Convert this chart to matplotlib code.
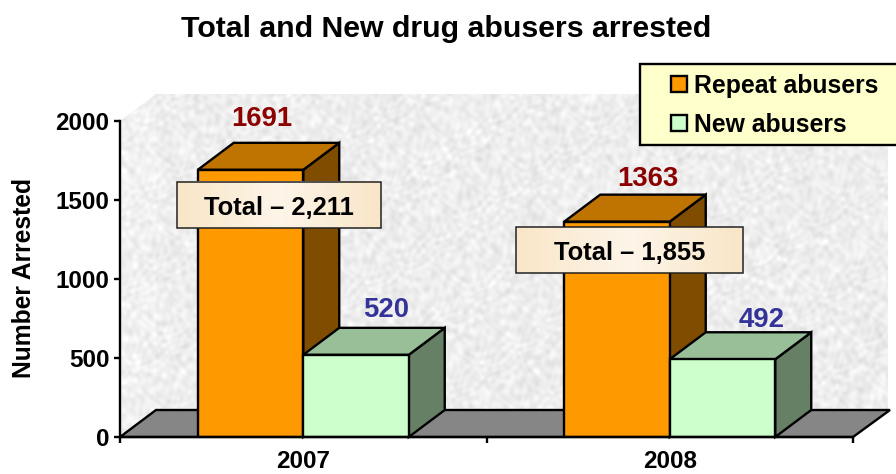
import numpy as np
import matplotlib
matplotlib.use("Agg")
import matplotlib.pyplot as plt
from matplotlib.colors import LinearSegmentedColormap
from matplotlib.patches import Polygon, Rectangle

plt.rcParams['font.family'] = ['Liberation Sans', 'DejaVu Sans']
plt.rcParams['font.weight'] = 'bold'

years = ["2007", "2008"]
repeat_abusers = [1691, 1363]
new_abusers = [520, 492]
total_labels = ["Total \u2013 2,211", "Total \u2013 1,855"]
y_ticks = [0, 500, 1000, 1500, 2000]

W, H = 896, 474
LW = 1.7


def wall_texture(nx, ny):
    # mottled grey stone look, only decoration behind the chart
    xx, yy = np.meshgrid(np.arange(nx), np.arange(ny))
    t = np.zeros_like(xx, dtype=float)
    for fx, fy, ph in [(0.31, 0.17, 0.4), (0.13, 0.37, 1.9), (0.23, -0.29, 3.1), (0.47, 0.11, 5.2),
                       (-0.19, 0.43, 2.2), (0.53, -0.37, 0.9), (0.071, 0.093, 4.4), (0.37, 0.59, 1.3),
                       (0.61, 0.23, 2.7), (-0.41, 0.29, 0.2), (0.17, -0.11, 3.8), (0.09, 0.21, 5.9)]:
        warp = 3.5 * np.sin(xx * 0.053 + yy * 0.079 + ph) + 2.0 * np.sin(xx * 0.127 - yy * 0.101 + 2 * ph)
        t += np.sin(xx * fx + yy * fy + ph + warp)
    t = t / np.abs(t).max()
    return 0.93 + 0.075 * t


def depth_faces(ax, left, width, value, dx, dy, top_color, side_color):
    right = left + width
    side = Polygon([(right, 0), (right + dx, dy), (right + dx, value + dy), (right, value)],
                   facecolor=side_color, edgecolor='black', linewidth=LW, clip_on=False, zorder=3)
    top = Polygon([(left, value), (left + dx, value + dy), (right + dx, value + dy), (right, value)],
                  facecolor=top_color, edgecolor='black', linewidth=LW, clip_on=False, zorder=3)
    ax.add_patch(side)
    ax.add_patch(top)


fig = plt.figure(figsize=(W / 100, H / 100), dpi=100, facecolor='white')

# pixel layer behind the chart: walls and floor
bg = fig.add_axes([0, 0, 1, 1], zorder=0)
bg.axis('off')

tex = wall_texture(W, H)
back = bg.imshow(tex, cmap='gray', vmin=0, vmax=1, extent=(0, W, H, 0), aspect='auto', interpolation='bilinear')
back.set_clip_path(Polygon([(156, 94), (888, 94), (888, 410), (156, 410)], transform=bg.transData))
side_wall = bg.imshow(tex * 1.015, cmap='gray', vmin=0, vmax=1, extent=(0, W, H, 0), aspect='auto', interpolation='bilinear')
side_wall.set_clip_path(Polygon([(120, 121), (156, 94), (156, 410), (120, 437)], transform=bg.transData))
bg.set_xlim(0, W)
bg.set_ylim(H, 0)
bg.add_patch(Polygon([(120, 437), (156, 410), (890, 410), (853, 437)], facecolor='#868686',
                     edgecolor='black', linewidth=LW))

# chart axes, 733 px wide and 316 px high
ax = fig.add_axes([120 / W, 1 - 437 / H, 733 / W, 316 / H], zorder=1)
ax.patch.set_alpha(0)
ax.set_xlim(0, 2)
ax.set_ylim(0, 2000)
for s in ['top', 'right']:
    ax.spines[s].set_visible(False)
for s in ['left', 'bottom']:
    ax.spines[s].set_linewidth(LW)
    ax.spines[s].set_zorder(6)

dx = 36 / 733 * 2
dy = 27 / 316 * 2000
bar_w = 105.5 / 733 * 2
centers = np.arange(len(years)) + 0.5

depth_faces(ax, centers[0] - bar_w, bar_w, repeat_abusers[0], dx, dy, '#BF7300', '#804D00')
depth_faces(ax, centers[1] - bar_w, bar_w, repeat_abusers[1], dx, dy, '#BF7300', '#804D00')
depth_faces(ax, centers[0], bar_w, new_abusers[0], dx, dy, '#99BF99', '#668066')
depth_faces(ax, centers[1], bar_w, new_abusers[1], dx, dy, '#99BF99', '#668066')
ax.bar(centers - bar_w / 2, repeat_abusers, bar_w, color='#FF9900', edgecolor='black', linewidth=LW, zorder=4)
ax.bar(centers + bar_w / 2, new_abusers, bar_w, color='#CCFFCC', edgecolor='black', linewidth=LW, zorder=4)

ax.set_yticks(y_ticks)
ax.set_xticks([0, 1, 2])
ax.set_xticklabels([])
ax.tick_params(axis='both', length=4.5, width=LW, labelsize=17.5, pad=3)
ax.set_xticks(centers, minor=True)
ax.set_xticklabels(years, minor=True, fontsize=17.5)
ax.tick_params(axis='x', which='minor', length=0, pad=9)

# value labels, offsets in points from the bar's front top centre
for x, v, off in zip(centers - bar_w / 2, repeat_abusers, [(8, 36.5), (22, 30.5)]):
    ax.annotate(str(v), (x, v), xytext=off, textcoords='offset points', ha='center', va='center',
                fontsize=19.8, color='#8B0000', annotation_clip=False, zorder=7)
for x, v, off in zip(centers + bar_w / 2, new_abusers, [(21.5, 32), (28, 28)]):
    ax.annotate(str(v), (x, v), xytext=off, textcoords='offset points', ha='center', va='center',
                fontsize=19.8, color='#333399', annotation_clip=False, zorder=7)

# pixel layer on top: title, y label, total boxes and legend
fg = fig.add_axes([0, 0, 1, 1], zorder=2)
fg.axis('off')

fg.text(446, 29, "Total and New drug abusers arrested", ha='center', va='center', fontsize=21.8, color='black')
fg.text(24, 278, "Number Arrested", rotation=90, ha='center', va='center', fontsize=17.7, color='black')

box_cmap = LinearSegmentedColormap.from_list('box', ['#F9E6C8', '#FDF5E8', '#F9E6C8'])
for (x0, y0, x1, y1), label, tx in zip([(177, 182, 381, 228), (516, 227, 743, 273)], total_labels, [279, 630]):
    fg.imshow(np.linspace(0, 1, 64).reshape(1, -1), cmap=box_cmap, extent=(x0, x1, y1, y0), aspect='auto')
    fg.add_patch(Rectangle((x0, y0), x1 - x0, y1 - y0, facecolor='none', edgecolor='#222222', linewidth=1.1))
    fg.text(tx, (y0 + y1) / 2 + 3, label, ha='center', va='center', fontsize=18.4, color='black')

fg.add_patch(Rectangle((640, 64), 270, 81, facecolor='#FFFFCC', edgecolor='black', linewidth=LW))
for y, color, label in [(84, '#FF9900', "Repeat abusers"), (123, '#CCFFCC', "New abusers")]:
    fg.add_patch(Rectangle((671, y - 8), 16, 16, facecolor=color, edgecolor='black', linewidth=LW))
    fg.text(694, y + 2, label, ha='left', va='center', fontsize=17.8, color='black')

fg.set_xlim(0, W)
fg.set_ylim(H, 0)

fig.savefig('out.png', dpi=100)
